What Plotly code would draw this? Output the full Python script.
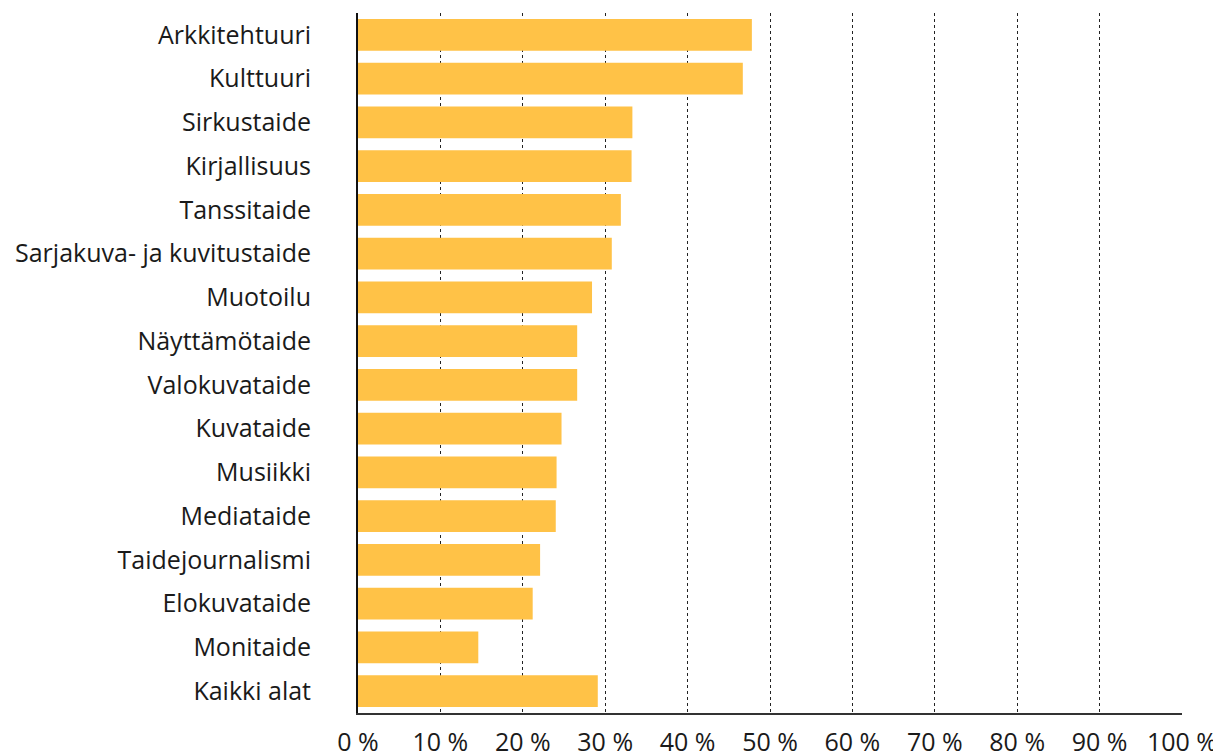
import plotly.graph_objects as go

categories = ["Arkkitehtuuri", "Kulttuuri", "Sirkustaide", "Kirjallisuus", "Tanssitaide",
              "Sarjakuva- ja kuvitustaide", "Muotoilu", "Näyttämötaide", "Valokuvataide",
              "Kuvataide", "Musiikki", "Mediataide", "Taidejournalismi", "Elokuvataide",
              "Monitaide", "Kaikki alat"]
values = [47.8, 46.7, 33.3, 33.2, 31.9, 30.8, 28.4, 26.6, 26.6, 24.7, 24.1, 24.0, 22.1, 21.2, 14.6, 29.1]
tick_vals = [0, 10, 20, 30, 40, 50, 60, 70, 80, 90, 100]
tick_text = [f"{v} %" for v in tick_vals]

font = "Open Sans"
fsize = 25

fig = go.Figure(go.Bar(
    x=values, y=categories, orientation="h",
    marker=dict(color="#FFC247", line=dict(width=0)),
    hoverinfo="x+y",
))

fig.update_layout(
    width=1213, height=746,
    margin=dict(l=350, r=39, t=5, b=41, autoexpand=False),
    paper_bgcolor="white", plot_bgcolor="white",
    bargap=0.27,
    showlegend=False,
    font=dict(family=font, size=fsize, color="#1a1a1a"),
)
fig.update_xaxes(
    range=[0, 100], tickvals=tick_vals, ticktext=tick_text,
    showgrid=True, gridcolor="#222222", gridwidth=1, griddash="3px,3px",
    showline=True, linecolor="#333333", linewidth=1.5,
    zeroline=False, ticks="", ticklabelstandoff=6, automargin=False,
    tickfont=dict(family=font, size=fsize, color="#1a1a1a"),
)
fig.update_yaxes(
    categoryorder="array", categoryarray=categories, autorange="reversed",
    showgrid=False, zeroline=False,
    showline=True, linecolor="#111111", linewidth=2,
    ticks="", ticklabelstandoff=40, automargin=False,
    tickfont=dict(family=font, size=fsize, color="#1a1a1a"),
)

fig.write_html("out.html")
